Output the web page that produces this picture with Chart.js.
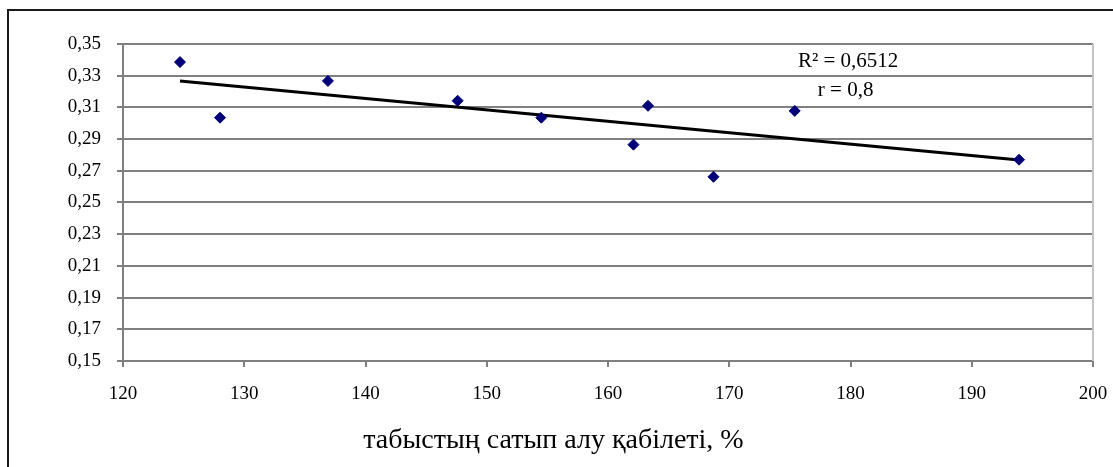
<!DOCTYPE html>
<html lang="kk">
<head>
    <meta charset="UTF-8">
    <title>Scatter with trend</title>
    <script src="https://cdn.jsdelivr.net/npm/chart.js"></script>
    <style>
        html, body {
            margin: 0;
            padding: 0;
            background: #ffffff;
        }
        #wrap {
            width: 1113px;
            height: 467px;
        }
    </style>
</head>
<body>
<div id="wrap">
    <canvas id="scatterChart" width="1113" height="467"></canvas>
</div>
<script>
    // points
    const xValues = [124.7, 128.0, 136.9, 147.6, 154.5, 162.1, 163.3, 168.7, 175.4, 193.9];
    const yValues = [0.3386, 0.3035, 0.3267, 0.3142, 0.3035, 0.2865, 0.3110, 0.2662, 0.3078, 0.2770];

    // trend line ends
    const trendX = [124.7, 193.9];
    const trendY = [0.3267, 0.2768];

    const xTicks = [120, 130, 140, 150, 160, 170, 180, 190, 200];
    const yTicks = [0.15, 0.17, 0.19, 0.21, 0.23, 0.25, 0.27, 0.29, 0.31, 0.33, 0.35];

    const xTitle = 'табыстың сатып алу қабілеті, %';
    const noteLines = ['R² = 0,6512', 'r = 0,8'];

    const serif = '"Liberation Serif", "DejaVu Serif", serif';

    const framePlugin = {
        id: 'frame',
        beforeDraw(chart) {
            const ctx = chart.ctx;
            ctx.save();
            ctx.fillStyle = '#ffffff';
            ctx.fillRect(0, 0, chart.width, chart.height);
            ctx.strokeStyle = '#1a1a1a';
            ctx.lineWidth = 2;
            ctx.beginPath();
            ctx.moveTo(8, chart.height);
            ctx.lineTo(8, 10);
            ctx.lineTo(chart.width, 10);
            ctx.stroke();
            ctx.restore();
        },
        afterDatasetsDraw(chart) {
            const ctx = chart.ctx;
            const area = chart.chartArea;
            ctx.save();
            ctx.strokeStyle = '#c4c4c4';
            ctx.lineWidth = 2;
            ctx.beginPath();
            ctx.moveTo(area.right, area.top);
            ctx.lineTo(area.right, area.bottom);
            ctx.stroke();

            // R² and r note
            const xs = chart.scales.x;
            const ys = chart.scales.y;
            ctx.fillStyle = '#000000';
            ctx.font = '21px ' + serif;
            ctx.textAlign = 'center';
            ctx.textBaseline = 'middle';
            ctx.fillText(noteLines[0], xs.getPixelForValue(179.8), ys.getPixelForValue(0.3390));
            ctx.fillText(noteLines[1], xs.getPixelForValue(179.6), ys.getPixelForValue(0.3208));

            // axis title, placed under the ticks like in the source
            ctx.font = '28px ' + serif;
            ctx.fillText(xTitle, xs.getPixelForValue(155.5), area.bottom + 80);
            ctx.restore();
        }
    };

    new Chart(document.getElementById('scatterChart'), {
        type: 'scatter',
        data: {
            datasets: [{
                label: 'points',
                data: xValues.map((x, i) => ({x: x, y: yValues[i]})),
                pointStyle: 'rectRot',
                pointRadius: 5.5,
                pointBackgroundColor: '#00007f',
                pointBorderColor: '#00007f',
                order: 1
            }, {
                label: 'trend',
                type: 'line',
                data: trendX.map((x, i) => ({x: x, y: trendY[i]})),
                borderColor: '#000000',
                borderWidth: 3,
                pointRadius: 0,
                fill: false,
                order: 2
            }]
        },
        options: {
            responsive: false,
            animation: false,
            events: [],
            layout: {
                padding: {left: 0, right: 20, top: 44, bottom: 0}
            },
            plugins: {
                legend: {display: false},
                tooltip: {enabled: false}
            },
            scales: {
                x: {
                    type: 'linear',
                    min: 120,
                    max: 200,
                    afterBuildTicks: s => { s.ticks = xTicks.map(v => ({value: v})); },
                    afterFit: s => {
                        s.height = 106;
                        s.paddingLeft = 0;
                        s.paddingRight = 0;
                    },
                    grid: {
                        drawOnChartArea: false,
                        drawTicks: true,
                        tickLength: 6,
                        color: '#808080',
                        lineWidth: 2
                    },
                    border: {color: '#808080', width: 2},
                    ticks: {
                        color: '#000000',
                        padding: 16,
                        maxRotation: 0,
                        font: {family: serif, size: 19},
                        callback: v => String(v)
                    }
                },
                y: {
                    type: 'linear',
                    min: 0.15,
                    max: 0.35,
                    afterBuildTicks: s => { s.ticks = yTicks.map(v => ({value: v})); },
                    afterFit: s => { s.width = 123; },
                    grid: {
                        color: '#808080',
                        lineWidth: 2,
                        tickLength: 6
                    },
                    border: {color: '#808080', width: 2},
                    ticks: {
                        color: '#000000',
                        padding: 16,
                        font: {family: serif, size: 19},
                        callback: v => v.toFixed(2).replace('.', ',')
                    }
                }
            }
        },
        plugins: [framePlugin]
    });
</script>
</body>
</html>
